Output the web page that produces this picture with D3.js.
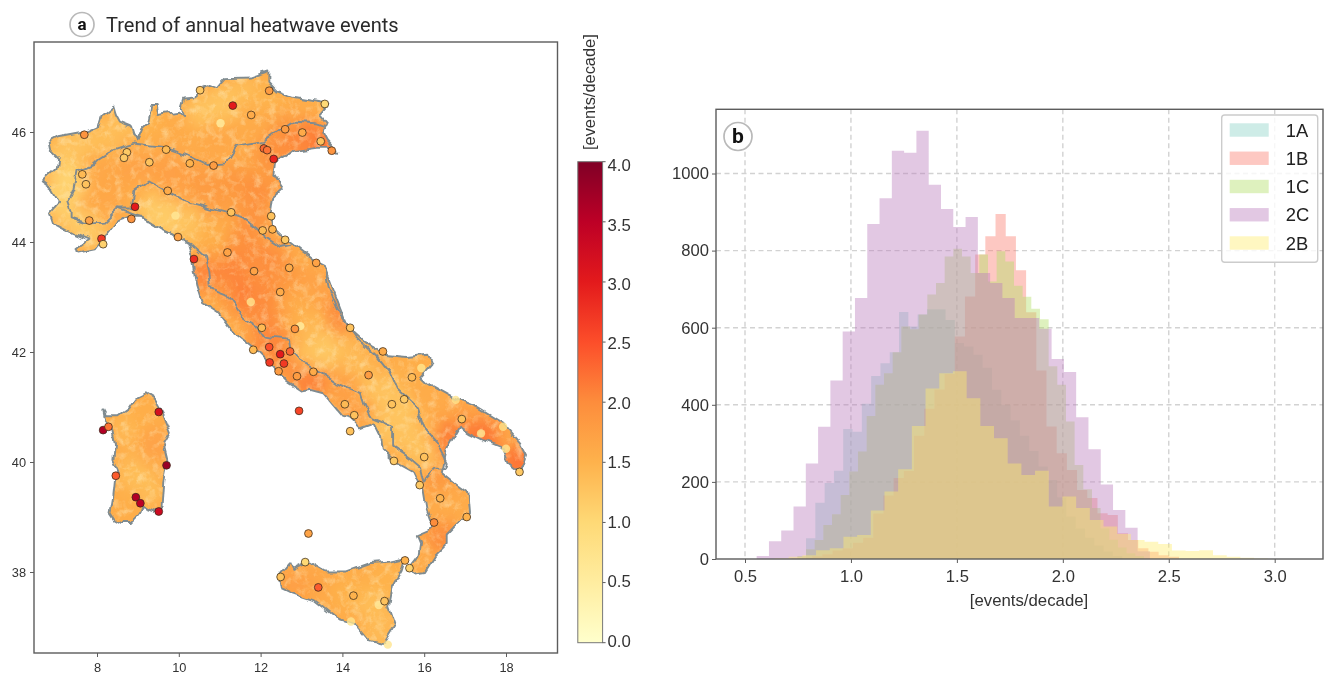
<!DOCTYPE html>
<html>
<head>
<meta charset="utf-8">
<script src="https://cdn.jsdelivr.net/npm/d3@7"></script>
<style>
  html, body { margin: 0; padding: 0; background: #fff; }
  svg { display: block; filter: blur(0.45px); }
</style>
</head>
<body>
<div id="my_dataviz"></div>
<script>
// coastlines, [lon, lat]
const mainland = [[6.81,45.82],[7.01,45.90],[7.38,45.95],[7.67,45.99],[8.03,46.10],[8.11,46.28],[8.40,46.46],[8.46,46.31],[8.56,46.17],[8.83,46.09],[8.89,45.95],[8.97,45.85],[9.09,46.07],[9.22,46.16],[9.30,46.49],[9.46,46.49],[9.50,46.31],[9.99,46.37],[10.13,46.27],[10.07,46.46],[10.13,46.61],[10.41,46.63],[10.44,46.79],[10.68,46.85],[10.93,46.78],[11.17,46.98],[11.74,46.99],[12.19,47.10],[12.19,46.91],[12.39,46.75],[12.80,46.64],[13.53,46.55],[13.68,46.51],[13.45,46.31],[13.62,46.16],[13.53,46.01],[13.64,45.85],[13.90,45.64],[13.66,45.73],[13.37,45.73],[12.80,45.67],[12.35,45.43],[12.31,45.19],[12.52,44.96],[12.31,44.82],[12.25,44.52],[12.31,44.28],[12.64,44.04],[13.33,43.64],[13.57,43.55],[13.78,43.13],[14.11,42.49],[14.51,42.22],[15.00,41.95],[15.57,41.91],[16.10,41.95],[16.18,41.79],[15.90,41.55],[16.06,41.43],[16.71,41.16],[17.32,40.98],[17.93,40.70],[18.34,40.34],[18.49,40.13],[18.34,39.82],[18.06,39.98],[17.93,40.25],[17.53,40.37],[17.12,40.52],[16.88,40.64],[16.55,40.22],[16.43,39.80],[16.75,39.61],[17.08,39.43],[17.12,39.07],[16.88,38.95],[16.55,38.70],[16.55,38.49],[16.27,38.28],[16.02,37.98],[15.73,37.95],[15.61,38.07],[15.86,38.31],[15.90,38.52],[15.82,38.67],[16.22,38.80],[16.06,39.13],[15.98,39.49],[15.86,39.61],[15.73,39.82],[15.29,40.00],[14.96,40.22],[14.92,40.46],[14.76,40.70],[14.43,40.61],[14.19,40.79],[14.02,40.82],[13.53,41.25],[13.21,41.31],[13.01,41.28],[12.64,41.46],[12.23,41.79],[11.82,42.10],[11.25,42.43],[10.96,42.71],[10.59,42.89],[10.45,43.22],[10.35,43.67],[10.23,43.98],[9.95,44.10],[9.46,44.28],[9.09,44.46],[8.81,44.46],[8.48,44.37],[8.11,44.01],[7.95,43.85],[7.54,43.79],[7.50,43.89],[7.79,44.04],[7.38,44.16],[6.93,44.34],[6.85,44.52],[7.10,44.73],[6.93,44.95],[6.65,45.10],[7.01,45.34],[7.05,45.52],[6.85,45.67]];
const sardinia = [[8.15,40.95],[8.22,40.85],[8.52,40.85],[8.77,40.98],[8.93,41.16],[9.17,41.25],[9.42,41.13],[9.58,40.92],[9.78,40.55],[9.62,40.34],[9.72,40.04],[9.62,39.67],[9.58,39.16],[9.46,39.10],[9.09,39.20],[9.01,39.01],[8.85,38.89],[8.60,38.89],[8.44,38.95],[8.33,39.07],[8.40,39.37],[8.44,39.67],[8.52,39.85],[8.40,40.04],[8.44,40.31],[8.36,40.61],[8.20,40.76]];
const sicily = [[12.43,37.91],[12.72,38.16],[12.80,38.04],[13.21,38.19],[13.62,38.01],[14.11,38.01],[14.67,38.16],[15.16,38.19],[15.53,38.25],[15.45,38.04],[15.21,37.73],[15.12,37.37],[15.29,37.01],[15.04,36.70],[14.67,36.76],[14.35,37.04],[13.86,37.16],[13.29,37.49],[12.80,37.61],[12.47,37.73]];

// climate zone borders
const poBorder = [[13.57,46.11],[13.37,46.16],[12.80,46.19],[12.56,46.07],[12.07,45.82],[11.42,45.73],[11.17,45.43],[10.68,45.40],[10.19,45.58],[9.62,45.73],[8.89,45.79],[8.40,45.67],[8.03,45.49],[7.91,45.40],[7.50,45.28],[7.42,44.95],[7.30,44.76],[7.38,44.58],[7.38,44.43],[7.71,44.35],[8.15,44.37],[8.48,44.61],[8.81,44.61],[8.89,44.91],[9.25,45.10],[9.78,44.89],[10.19,44.73],[10.76,44.61],[11.25,44.52],[11.58,44.43],[11.90,44.25],[12.15,44.07],[12.48,43.91],[12.72,43.95]];
const tyrrhenianBorder = [[8.48,44.61],[9.05,44.46],[9.58,44.22],[9.95,44.10],[10.27,43.98],[10.64,43.73],[10.72,43.43],[10.76,43.19],[11.17,43.07],[11.25,42.95],[11.58,42.61],[11.90,42.46],[12.07,42.28],[12.72,42.22],[12.76,42.04],[13.01,41.79],[13.37,41.67],[13.86,41.43],[14.43,41.25],[14.51,41.07],[14.67,40.82],[15.24,40.64],[15.24,40.28],[15.65,40.07],[15.90,39.91],[15.98,39.64]];
const adriaticBorder = [[13.57,43.55],[13.66,43.19],[13.98,42.64],[14.31,42.28],[14.84,41.91],[15.16,41.61],[15.33,41.31],[15.82,40.98],[15.98,40.64],[16.31,40.34],[16.55,39.98],[16.51,39.88],[16.27,39.88],[16.06,39.73],[15.98,39.61]];

// trend field, [lon, lat, events/decade]
const fieldPoints = [[7.2,45.6,1.25],[7.5,45.8,1.3],[8.2,45.9,1.35],[7.3,45.1,1.05],[7.1,44.8,1.1],[7.4,44.5,1.15],[7.8,44.2,1.2],[8.7,46.2,1.35],[9.4,46.2,1.5],[10.0,46.1,1.6],[10.6,46.4,1.3],[11.2,46.5,1.25],[11.6,46.7,1.35],[12.1,46.6,1.45],[12.9,46.4,1.6],[13.3,46.3,1.55],[11.0,45.9,1.65],[11.8,46.2,1.6],[12.6,46.0,1.85],[13.2,45.9,2.1],[13.5,45.75,2.2],[12.9,45.75,2.05],[12.3,45.6,1.95],[8.2,45.3,1.65],[9.0,45.3,1.7],[9.8,45.3,1.75],[10.6,45.1,1.8],[11.4,45.1,1.85],[12.0,44.9,1.95],[8.0,44.8,1.65],[8.5,44.9,1.65],[9.8,44.7,1.7],[10.8,44.75,1.8],[11.8,44.5,1.9],[9.2,44.75,1.55],[9.4,44.55,1.2],[9.8,44.4,1.15],[10.3,44.3,1.3],[10.9,44.1,1.55],[11.6,44.0,1.95],[12.2,43.7,2.0],[11.3,43.5,2.05],[10.6,43.4,2.05],[11.6,43.0,2.1],[12.2,43.2,2.0],[12.7,43.3,1.85],[13.3,43.2,1.7],[12.1,42.7,2.0],[12.9,42.8,1.6],[13.4,42.5,1.4],[13.8,42.9,1.75],[14.0,42.65,2.0],[12.2,42.2,2.05],[12.7,41.9,2.05],[13.2,41.5,2.1],[13.2,42.0,1.35],[13.7,42.0,1.2],[14.2,41.9,1.4],[14.4,41.5,1.35],[14.0,41.35,1.75],[14.3,40.9,1.75],[15.0,41.3,1.3],[15.4,40.9,1.25],[15.1,40.6,1.3],[15.7,40.4,1.3],[16.0,40.2,1.3],[15.7,41.7,1.55],[16.3,41.1,1.6],[16.9,40.8,1.75],[17.6,40.7,1.7],[17.4,40.45,2.2],[18.3,40.0,2.2],[16.65,40.4,2.1],[16.4,39.6,1.85],[16.5,39.2,1.6],[16.2,38.7,1.6],[16.45,38.6,2.0],[15.9,38.2,1.6],[13.3,37.8,1.65],[12.8,37.75,1.75],[14.2,37.6,1.5],[14.8,37.4,1.35],[14.9,36.9,1.4],[15.1,37.9,1.5],[8.8,40.6,1.4],[9.2,40.9,1.55],[9.4,40.3,1.7],[8.9,39.8,1.35],[9.2,39.5,1.35],[8.7,39.2,1.55]];

// weather stations [lon, lat, trend]
const stations = [[10.52,46.76,1.2],[12.21,46.75,1.8],[13.57,46.51,1.0],[11.32,46.48,3.0],[11.77,46.31,1.6],[12.60,46.05,1.8],[13.02,45.99,1.6],[7.69,45.95,1.9],[13.47,45.83,1.3],[13.74,45.66,1.9],[12.08,45.70,2.3],[12.16,45.67,2.2],[12.32,45.51,2.9],[8.73,45.63,1.2],[8.66,45.53,1.2],[9.69,45.68,1.4],[9.28,45.45,1.3],[10.27,45.43,1.5],[10.85,45.39,1.8],[7.64,45.23,1.4],[7.73,45.05,1.3],[9.73,44.93,1.6],[8.93,44.64,3.0],[11.28,44.54,1.3],[12.26,44.47,1.3],[7.81,44.39,1.7],[8.84,44.42,1.9],[12.05,44.21,1.4],[12.29,44.23,1.5],[9.98,44.09,1.7],[8.11,44.06,2.7],[8.15,43.96,1.1],[12.60,44.04,1.2],[10.37,43.69,2.8],[11.19,43.81,1.7],[13.36,43.62,1.7],[11.84,43.47,1.7],[12.70,43.53,1.6],[12.48,43.09,1.6],[12.03,42.44,1.4],[12.84,42.42,1.9],[14.19,42.44,1.3],[14.99,42.01,1.6],[11.82,42.04,1.4],[12.21,42.09,2.5],[12.48,41.96,3.0],[12.72,42.01,2.3],[12.22,41.81,2.7],[12.57,41.79,2.7],[12.44,41.65,1.8],[12.89,41.56,1.8],[13.29,41.64,1.6],[14.64,41.58,1.8],[15.70,41.54,1.4],[12.94,40.93,2.6],[14.06,41.05,1.4],[14.29,40.85,1.3],[14.19,40.56,1.3],[15.21,41.05,1.3],[15.51,41.14,1.2],[16.92,40.78,1.3],[18.33,39.82,1.2],[16.00,40.09,1.3],[15.26,40.02,1.2],[8.15,40.58,3.6],[8.28,40.64,2.2],[9.51,40.91,3.2],[9.70,39.94,3.8],[8.46,39.75,2.4],[8.95,39.36,3.6],[9.06,39.25,3.5],[9.51,39.10,3.3],[15.89,39.58,1.2],[16.39,39.34,1.5],[17.04,39.00,1.5],[16.24,38.90,2.0],[13.17,38.70,1.7],[13.09,38.18,1.0],[15.53,38.21,1.5],[15.64,38.07,1.1],[12.49,37.91,1.3],[13.41,37.72,2.4],[14.27,37.57,1.5],[15.03,37.47,1.3]];
// pale ones, no visible edge
const paleStations = [[11.02,46.16,0.5],[9.92,44.48,0.6],[11.76,42.91,0.7],[12.97,42.47,0.5],[15.93,41.71,0.7],[16.77,41.13,0.7],[17.93,40.64,0.8],[17.39,40.52,0.7],[18.00,40.24,0.7],[14.89,37.40,0.6],[14.21,37.10,0.7],[15.11,36.68,0.7]];

const cbarTicks = [0, 0.5, 1, 1.5, 2, 2.5, 3, 3.5, 4];
const ylOrRd = ['#ffffcc','#ffeda0','#fed976','#feb24c','#fd8d3c','#fc4e2a','#e31a1c','#bd0026','#800026'];

// histogram counts per region, each with its own bins
const regions = ['1A', '1B', '1C', '2C', '2B'];
const regionColors = ['#8dd3c7', '#fb8072', '#b3de69', '#bc80bd', '#ffed6f'];
const binStarts = [0.788, 0.7204, 0.747, 0.555, 0.6416];
const binWidths = [0.0439, 0.0481, 0.0409, 0.058, 0.0646];
const counts1A = [54,146,197,229,337,330,403,475,508,536,641,603,634,648,648,620,560,551,530,496,439,400,360,320,280,240,205,160,110,80,55,35,20,8];
const counts1B = [1,3,7,12,22,28,42,55,118,165,210,228,320,390,440,480,577,681,790,837,895,837,749,640,489,344,274,231,179,158,119,114,67,49,28,19,10,6];
const counts1C = [8,25,49,88,116,166,227,279,371,452,482,536,603,596,634,686,716,785,805,785,742,790,720,798,772,709,680,649,622,500,452,357,244,181,132,80,50,30,15,8];
const counts2C = [8,46,74,136,248,343,463,590,677,869,936,1059,1054,1111,971,908,861,887,742,716,677,625,625,597,519,485,368,285,193,127,81,20];
const counts2B = [2,6,10,23,28,58,62,126,175,233,345,442,482,487,417,345,313,248,218,229,136,162,132,101,84,65,49,45,39,22,21,23,10,6,3,1];
const regionCounts = [counts1A, counts1B, counts1C, counts2C, counts2B];

const fontFamily = '"Liberation Sans", Arial, sans-serif';
const axisColor = '#5c5c5c';

const svg = d3.select('#my_dataviz').append('svg')
    .attr('width', 1326)
    .attr('height', 674);
const defs = svg.append('defs');

// ---- panel a ----
const xMap = d3.scaleLinear().domain([8, 18]).range([97, 506]);
const yMap = d3.scaleLinear().domain([38, 46]).range([572, 132]);
const mapBox = {left: 34, right: 557.5, top: 42, bottom: 653};

const heatColor = d3.scaleLinear().domain(cbarTicks).range(ylOrRd);
const project = d3.line().x(d => xMap(d[0])).y(d => yMap(d[1]));
const landPolys = [mainland, sardinia, sicily];

defs.append('clipPath').attr('id', 'land')
    .selectAll('path').data(landPolys).join('path')
    .attr('d', d => project(d) + 'Z');

const soft = defs.append('filter').attr('id', 'soft')
    .attr('x', '-5%').attr('y', '-5%').attr('width', '110%').attr('height', '110%');
soft.append('feGaussianBlur').attr('stdDeviation', 8);

// pale mottling of the raster
const speckle = defs.append('filter').attr('id', 'speckle')
    .attr('x', '0').attr('y', '0').attr('width', '100%').attr('height', '100%');
speckle.append('feTurbulence')
    .attr('type', 'fractalNoise').attr('baseFrequency', 0.13).attr('numOctaves', 3).attr('seed', 4);
speckle.append('feColorMatrix').attr('type', 'matrix')
    .attr('values', '0 0 0 0 1  0 0 0 0 0.9  0 0 0 0 0.6  2.6 0 0 0 -1.2');
speckle.append('feGaussianBlur').attr('stdDeviation', 0.7);

// makes the coast wiggle a bit like the real one
const wiggle = defs.append('filter').attr('id', 'wiggle')
    .attr('filterUnits', 'userSpaceOnUse')
    .attr('x', 0).attr('y', 0).attr('width', 570).attr('height', 674);
wiggle.append('feTurbulence')
    .attr('type', 'fractalNoise').attr('baseFrequency', 0.07).attr('numOctaves', 2).attr('seed', 7).attr('result', 'n');
wiggle.append('feDisplacementMap')
    .attr('in', 'SourceGraphic').attr('in2', 'n').attr('scale', 8)
    .attr('xChannelSelector', 'R').attr('yChannelSelector', 'G');

const wiggled = svg.append('g').attr('filter', 'url(#wiggle)');
const landG = wiggled.append('g').attr('clip-path', 'url(#land)');
landG.append('rect')
    .attr('x', mapBox.left).attr('y', mapBox.top)
    .attr('width', mapBox.right - mapBox.left).attr('height', mapBox.bottom - mapBox.top)
    .attr('fill', heatColor(1.6));
landG.append('g').attr('filter', 'url(#soft)')
    .selectAll('circle').data(fieldPoints).join('circle')
    .attr('cx', d => xMap(d[0]))
    .attr('cy', d => yMap(d[1]))
    .attr('r', 18)
    .attr('fill', d => heatColor(d[2]));
landG.append('rect')
    .attr('x', mapBox.left).attr('y', mapBox.top)
    .attr('width', mapBox.right - mapBox.left).attr('height', mapBox.bottom - mapBox.top)
    .attr('filter', 'url(#speckle)')
    .attr('opacity', 0.4);

wiggled.append('g').selectAll('path')
    .data(landPolys.map(p => p.concat([p[0]])).concat([poBorder, tyrrhenianBorder, adriaticBorder]))
    .join('path')
    .attr('d', project)
    .attr('fill', 'none')
    .attr('stroke', '#7f8b90')
    .attr('stroke-width', 1.9)
    .attr('stroke-linejoin', 'round');

svg.append('g').selectAll('circle').data(paleStations).join('circle')
    .attr('cx', d => xMap(d[0]))
    .attr('cy', d => yMap(d[1]))
    .attr('r', 4.2)
    .attr('fill', d => heatColor(d[2]))
    .attr('fill-opacity', 0.8);

svg.append('g').selectAll('circle').data(stations).join('circle')
    .attr('cx', d => xMap(d[0]))
    .attr('cy', d => yMap(d[1]))
    .attr('r', 3.9)
    .attr('fill', d => heatColor(d[2]))
    .attr('stroke', '#3a2a1a')
    .attr('stroke-opacity', 0.75)
    .attr('stroke-width', 1);

svg.append('rect')
    .attr('x', mapBox.left).attr('y', mapBox.top)
    .attr('width', mapBox.right - mapBox.left).attr('height', mapBox.bottom - mapBox.top)
    .attr('fill', 'none').attr('stroke', axisColor).attr('stroke-width', 1.4);

const styleAxis = (g, size) => {
    g.select('.domain').remove();
    g.selectAll('.tick line').attr('stroke', axisColor);
    g.selectAll('.tick text')
        .attr('fill', '#333')
        .style('font', `${size}px ${fontFamily}`);
};

svg.append('g')
    .attr('transform', `translate(0,${mapBox.bottom})`)
    .call(d3.axisBottom(xMap).tickValues([8, 10, 12, 14, 16, 18]).tickFormat(d3.format('d')).tickSize(4).tickPadding(6))
    .call(g => styleAxis(g, 12.8));
svg.append('g')
    .attr('transform', `translate(${mapBox.left},0)`)
    .call(d3.axisLeft(yMap).tickValues([38, 40, 42, 44, 46]).tickFormat(d3.format('d')).tickSize(4).tickPadding(4))
    .call(g => styleAxis(g, 12.8));

svg.append('text')
    .attr('x', 106).attr('y', 32)
    .style('font', '400 20.05px Roboto, sans-serif')
    .attr('fill', '#2a2a2a')
    .text('Trend of annual heatwave events');

// badges
const badge = (cx, cy, r, label, size) => {
    svg.append('circle')
        .attr('cx', cx).attr('cy', cy).attr('r', r)
        .attr('fill', '#fff').attr('stroke', '#b9b9b9').attr('stroke-width', 1.7);
    svg.append('text')
        .attr('x', cx).attr('y', cy + size * 0.33)
        .attr('text-anchor', 'middle')
        .style('font', `700 ${size}px Roboto, sans-serif`)
        .attr('fill', '#111')
        .text(label);
};
badge(82, 24.5, 12, 'a', 17);

// colour bar
const barBox = {left: 577.8, right: 602.6, top: 161.7, bottom: 642.7};
const barScale = d3.scaleLinear().domain([0, 4]).range([barBox.bottom, barBox.top]);
const labelScale = d3.scaleLinear().domain([0, 4]).range([640.7, 165]);
const grad = defs.append('linearGradient').attr('id', 'cbar')
    .attr('x1', 0).attr('y1', 1).attr('x2', 0).attr('y2', 0);
grad.selectAll('stop').data(cbarTicks).join('stop')
    .attr('offset', d => d / 4)
    .attr('stop-color', d => heatColor(d));
svg.append('rect')
    .attr('x', barBox.left).attr('y', barBox.top)
    .attr('width', barBox.right - barBox.left).attr('height', barBox.bottom - barBox.top)
    .attr('fill', 'url(#cbar)')
    .attr('stroke', '#777').attr('stroke-width', 1);
const cbarG = svg.append('g').selectAll('g').data(cbarTicks).join('g');
cbarG.append('line')
    .attr('x1', barBox.right).attr('x2', barBox.right + 3)
    .attr('y1', d => barScale(d)).attr('y2', d => barScale(d))
    .attr('stroke', axisColor);
cbarG.append('text')
    .attr('x', 607.5)
    .attr('y', d => labelScale(d))
    .attr('dy', '0.36em')
    .style('font', `16.8px ${fontFamily}`)
    .attr('fill', '#333')
    .text(d => d.toFixed(1));
svg.append('text')
    .attr('transform', 'translate(595,150) rotate(-90)')
    .style('font', `16.4px ${fontFamily}`)
    .attr('fill', '#333')
    .text('[events/decade]');

// ---- panel b ----
const histBox = {left: 716, right: 1323, top: 109.3, bottom: 559};
const xHist = d3.scaleLinear().domain([0.5, 3]).range([745, 1274.7]);
const yHist = d3.scaleLinear().domain([0, 1000]).range([559, 173.5]);

const gridG = svg.append('g').attr('stroke', '#d2d2d2').attr('stroke-width', 1.4).attr('stroke-dasharray', '5,3.5');
gridG.selectAll('.gx').data(xHist.ticks(6)).join('line')
    .attr('x1', d => xHist(d)).attr('x2', d => xHist(d))
    .attr('y1', histBox.top).attr('y2', histBox.bottom);
gridG.selectAll('.gy').data([200, 400, 600, 800, 1000]).join('line')
    .attr('x1', histBox.left).attr('x2', histBox.right)
    .attr('y1', d => yHist(d)).attr('y2', d => yHist(d));

const stepArea = d3.area()
    .x(d => xHist(d.x))
    .y0(yHist(0))
    .y1(d => yHist(d.y))
    .curve(d3.curveStepAfter);

regions.forEach((name, i) => {
    const bins = regionCounts[i].map((c, k) => ({x: binStarts[i] + k * binWidths[i], y: c}));
    bins.push({x: binStarts[i] + bins.length * binWidths[i], y: 0});
    svg.append('path')
        .datum(bins)
        .attr('d', stepArea)
        .attr('fill', regionColors[i])
        .attr('fill-opacity', 0.43);
});

svg.append('rect')
    .attr('x', histBox.left).attr('y', histBox.top)
    .attr('width', histBox.right - histBox.left).attr('height', histBox.bottom - histBox.top)
    .attr('fill', 'none').attr('stroke', axisColor).attr('stroke-width', 1.4);

svg.append('g')
    .attr('transform', `translate(0,${histBox.bottom})`)
    .call(d3.axisBottom(xHist).tickValues([0.5, 1, 1.5, 2, 2.5, 3]).tickFormat(d3.format('.1f')).tickSize(4).tickPadding(7))
    .call(g => styleAxis(g, 16.6));
svg.append('g')
    .attr('transform', `translate(${histBox.left},0)`)
    .call(d3.axisLeft(yHist).tickValues([0, 200, 400, 600, 800, 1000]).tickFormat(d3.format('d')).tickSize(4).tickPadding(3))
    .call(g => styleAxis(g, 16.6));
svg.append('text')
    .attr('x', 1029).attr('y', 606)
    .attr('text-anchor', 'middle')
    .style('font', `16.8px ${fontFamily}`)
    .attr('fill', '#333')
    .text('[events/decade]');

badge(738, 136.5, 14, 'b', 21);

// legend
const legendG = svg.append('g').attr('transform', 'translate(1221.7,115)');
legendG.append('rect')
    .attr('width', 96).attr('height', 147.3).attr('rx', 3)
    .attr('fill', '#fff').attr('fill-opacity', 0.8)
    .attr('stroke', '#ccc').attr('stroke-width', 1.4);
const legendRow = d3.scaleLinear().domain([0, 4]).range([15, 128]);
const rows = legendG.selectAll('.row').data(regions).join('g')
    .attr('transform', (d, i) => `translate(0,${legendRow(i)})`);
rows.append('rect')
    .attr('x', 8).attr('y', -6.7).attr('width', 39).attr('height', 13.4)
    .attr('fill', (d, i) => regionColors[i])
    .attr('fill-opacity', 0.43);
rows.append('text')
    .attr('x', 64).attr('dy', '0.36em')
    .style('font', `18.4px ${fontFamily}`)
    .attr('fill', '#222')
    .text(d => d);
</script>
</body>
</html>
